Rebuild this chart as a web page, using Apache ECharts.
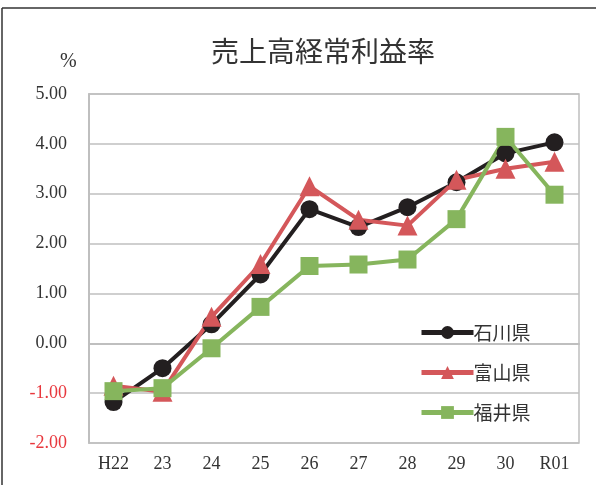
<!DOCTYPE html>
<html>
<head>
<meta charset="utf-8">
<script src="https://cdn.jsdelivr.net/npm/echarts@6/dist/echarts.min.js"></script>
<style>
html,body{margin:0;padding:0;background:#fff;}
#main{width:596px;height:485px;}
</style>
</head>
<body>
<div id="main"></div>
<script>
var years = ['H22','23','24','25','26','27','28','29','30','R01'];
var ishikawa = [-1.18,-0.50,0.38,1.38,2.69,2.33,2.73,3.23,3.81,4.03];
var toyama = [-0.85,-0.97,0.53,1.59,3.15,2.48,2.36,3.28,3.50,3.64];
var fukui = [-0.96,-0.90,-0.10,0.73,1.55,1.58,1.68,2.49,4.14,2.98];
var names = ['石川県','富山県','福井県'];

var serif = '"Liberation Serif", "Noto Sans CJK JP", serif';
var jp = '"Noto Sans CJK JP", sans-serif';

var chart = echarts.init(document.getElementById('main'));
var option = {
    animation: false,
    backgroundColor: '#fff',
    title: {
        text: '売上高経常利益率',
        left: 318,
        textAlign: 'center',
        top: 32,
        textStyle: {
            fontFamily: jp,
            fontWeight: 'normal',
            fontSize: 28,
            color: '#333'
        }
    },
    graphic: [
        { type: 'line', shape: {x1: 2, y1: 8, x2: 596, y2: 8}, style: {stroke: '#333', lineWidth: 1.5} },
        { type: 'line', shape: {x1: 2, y1: 8, x2: 2, y2: 485}, style: {stroke: '#333', lineWidth: 1.5} },
        { type: 'text', left: 60, top: 52, style: {text: '%', font: '20px ' + serif, fill: '#333'} }
    ],
    legend: {
        orient: 'vertical',
        left: 414,
        top: 318,
        itemWidth: 52,
        itemHeight: 16,
        itemGap: 21,
        data: names,
        lineStyle: { width: 5 },
        textStyle: {
            fontFamily: jp,
            fontSize: 19,
            color: '#333',
            padding: [0, 0, 0, -5]
        }
    },
    grid: {
        left: 89,
        right: 17,
        top: 94,
        bottom: 42,
        show: true,
        borderColor: '#bfbfbf',
        borderWidth: 1.5
    },
    xAxis: {
        type: 'category',
        data: years,
        boundaryGap: true,
        axisLine: { lineStyle: { color: '#bfbfbf', width: 2 } },
        axisTick: { inside: true, length: 6, lineStyle: { color: '#bfbfbf', width: 1.5 } },
        axisLabel: {
            margin: 12,
            fontFamily: serif,
            fontSize: 18,
            color: '#333'
        }
    },
    yAxis: {
        type: 'value',
        min: -2,
        max: 5,
        interval: 1,
        axisLine: { show: true, lineStyle: { color: '#bfbfbf', width: 2 } },
        axisTick: { show: false },
        splitLine: { lineStyle: { color: '#bfbfbf', width: 1.5 } },
        axisLabel: {
            margin: 22,
            fontFamily: serif,
            fontSize: 18,
            formatter: function (v) {
                var s = v.toFixed(2);
                return v < 0 ? '{neg|' + s + '}' : '{pos|' + s + '}';
            },
            rich: {
                neg: { color: '#e8373d', fontFamily: serif, fontSize: 18 },
                pos: { color: '#333', fontFamily: serif, fontSize: 18 }
            }
        }
    },
    series: [
        {
            name: names[0],
            type: 'line',
            data: ishikawa,
            symbol: 'circle',
            symbolSize: 18,
            color: '#231f20',
            lineStyle: { width: 4 }
        },
        {
            name: names[1],
            type: 'line',
            data: toyama,
            symbol: 'triangle',
            symbolSize: 20,
            color: '#d4575a',
            lineStyle: { width: 4 }
        },
        {
            name: names[2],
            type: 'line',
            data: fukui,
            symbol: 'rect',
            symbolSize: 18,
            color: '#86b55d',
            lineStyle: { width: 4 }
        }
    ]
};
chart.setOption(option);
</script>
</body>
</html>
